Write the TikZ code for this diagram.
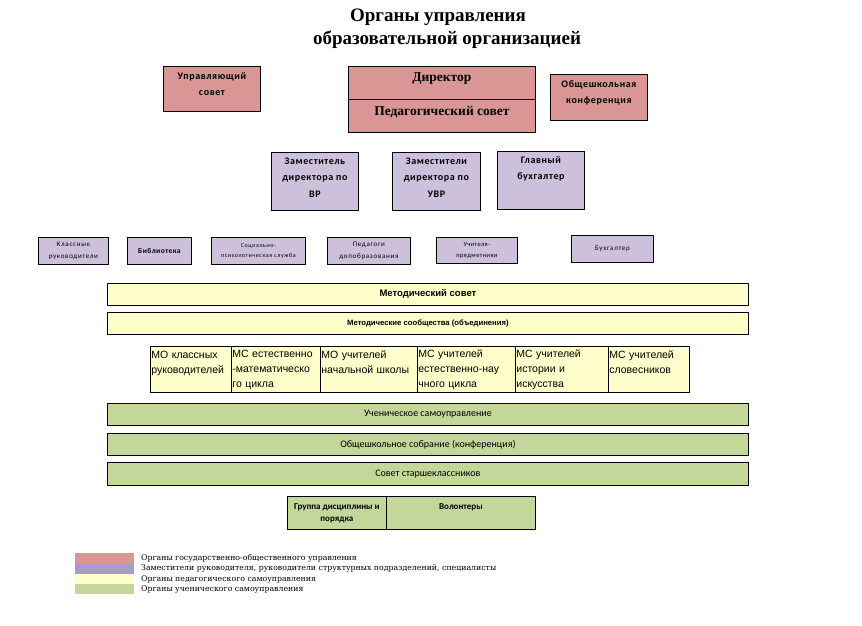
\documentclass[tikz,border=0pt]{standalone}
\usepackage{fontspec}
\setmainfont{Liberation Serif}
\newfontfamily\calibri{Carlito}
\newfontfamily\calibrisp[LetterSpace=6]{Carlito}
\newfontfamily\calibriwide[LetterSpace=10]{Carlito}
\newfontfamily\arial{Liberation Sans}
\newfontfamily\legendfont{DejaVu Serif}
\usetikzlibrary{positioning}

\definecolor{govred}{RGB}{217,150,148}
\definecolor{staffpurple}{RGB}{204,192,218}
\definecolor{legendpurple}{RGB}{168,156,205}
\definecolor{pedyellow}{RGB}{255,255,204}
\definecolor{pupilgreen}{RGB}{196,215,155}

\begin{document}
\begin{tikzpicture}[x=1pt, y=-1pt,
    block/.style={rectangle, draw=black, line width=0.8pt, anchor=north west, align=center, inner sep=1pt},
    redblock/.style={block, fill=govred, font=\calibrisp\bfseries\fontsize{10}{15.5}\selectfont},
    purpleblock/.style={block, fill=staffpurple, font=\calibrisp\bfseries\fontsize{10}{16.5}\selectfont},
    smallblock/.style={block, fill=staffpurple, font=\calibriwide\fontsize{7}{11.5}\selectfont},
    yellowblock/.style={block, fill=pedyellow, minimum width=641, minimum height=22, font=\arial\bfseries\fontsize{9.5}{11}\selectfont},
    mocell/.style={block, fill=pedyellow, align=left, minimum height=46, font=\arial\fontsize{10.5}{15}\selectfont},
    greenblock/.style={block, fill=pupilgreen, minimum width=641, minimum height=22, font=\calibri\fontsize{10}{12}\selectfont},
    legendtext/.style={anchor=west, inner sep=0pt, font=\legendfont\fontsize{7.8}{9}\selectfont},
]

% Page
\fill[white] (0,0) rectangle (862,625);

% Title
\node[font=\bfseries\fontsize{19}{22}\selectfont] (title1) at (438,17) {Органы управления};
\node[font=\bfseries\fontsize{19}{22}\selectfont] (title2) at (447,40) {образовательной организацией};

% Top level
\node[redblock, minimum width=97, minimum height=45, text depth=10pt] (council) at (163,66) {Управляющий\\совет};
\node[redblock, minimum width=187, minimum height=33, text depth=11pt, font=\bfseries\fontsize{13.5}{16}\selectfont] (director) at (348,66) {Директор};
\node[redblock, minimum width=187, minimum height=33, text depth=11pt, font=\bfseries\fontsize{13.5}{16}\selectfont] (pedcouncil) at (348,99) {Педагогический совет};
\node[redblock, minimum width=97, minimum height=46, text depth=11pt] (conference) at (550,74) {Общешкольная\\конференция};

% Deputies
\node[purpleblock, minimum width=87, minimum height=58, text depth=8pt] (deputyvr) at (271,152) {Заместитель\\директора по\\ВР};
\node[purpleblock, minimum width=88, minimum height=58, text depth=8pt] (deputyuvr) at (392,152) {Заместители\\директора по\\УВР};
\node[purpleblock, minimum width=87, minimum height=58, text depth=8pt] (chiefacc) at (497,151) {Главный\\бухгалтер\\~};

% Staff row
\node[smallblock, minimum width=70, minimum height=27] (classtutors) at (38,237) {Классные\\руководители};
\node[smallblock, minimum width=64, minimum height=27, font=\calibrisp\bfseries\fontsize{7.5}{11}\selectfont] (library) at (127,237) {Библиотека};
\node[smallblock, minimum width=94, minimum height=27, font=\calibriwide\fontsize{6}{9.5}\selectfont] (psychservice) at (211,237) {Социально-\\психологическая служба};
\node[smallblock, minimum width=83, minimum height=27] (addteachers) at (327,237) {Педагоги\\допобразования};
\node[smallblock, minimum width=81, minimum height=26, font=\calibrisp\fontsize{6.5}{11}\selectfont] (subjteachers) at (436,237) {Учителя-\\предметники};
\node[smallblock, minimum width=82, minimum height=27] (accountant) at (571,235) {Бухгалтер};

% Methodical bodies
\node[yellowblock] (methcouncil) at (107,283) {Методический совет};
\node[yellowblock, font=\arial\bfseries\fontsize{7.7}{10}\selectfont] (methunions) at (107,312) {Методические сообщества (объединения)};

% MO / MS row
\node[mocell, minimum width=81, text width=79] (mo1) at (150,346) {МО классных\\руководителей\\~};
\node[mocell, minimum width=89, text width=87] (mo2) at (231,346) {МС естественно\\-математическо\\го цикла};
\node[mocell, minimum width=97, text width=95] (mo3) at (320,346) {МО учителей\\начальной школы\\~};
\node[mocell, minimum width=98, text width=96] (mo4) at (417,346) {МС учителей\\естественно-нау\\чного цикла};
\node[mocell, minimum width=93, text width=91] (mo5) at (515,346) {МС учителей\\истории и\\искусства};
\node[mocell, minimum width=81, text width=79] (mo6) at (608,346) {МС учителей\\словесников\\~};

% Pupil self-government
\node[greenblock] (selfgov) at (107,403) {Ученическое самоуправление};
\node[greenblock] (assembly) at (107,433) {Общешкольное собрание (конференция)};
\node[greenblock, minimum height=23] (seniors) at (107,462) {Совет старшеклассников};
\node[greenblock, minimum width=99, minimum height=33, font=\calibri\bfseries\fontsize{9}{12}\selectfont] (discipline) at (287,496) {Группа дисциплины и\\порядка};
\node[greenblock, minimum width=149, minimum height=33, font=\calibri\bfseries\fontsize{9}{12}\selectfont] (volunteers) at (386,496) {Волонтеры\\~};

% Legend
\fill[govred] (75,553) rectangle (134,563);
\fill[legendpurple] (75,563) rectangle (134,574);
\fill[pedyellow] (75,574) rectangle (134,584);
\fill[pupilgreen] (75,584) rectangle (134,594);
\node[legendtext] (leg1) at (141,558) {Органы государственно-общественного управления};
\node[legendtext] (leg2) at (141,568.5) {Заместители руководителя, руководители структурных подразделений, специалисты};
\node[legendtext] (leg3) at (141,579) {Органы педагогического самоуправления};
\node[legendtext] (leg4) at (141,589.5) {Органы ученического самоуправления};

\end{tikzpicture}
\end{document}
